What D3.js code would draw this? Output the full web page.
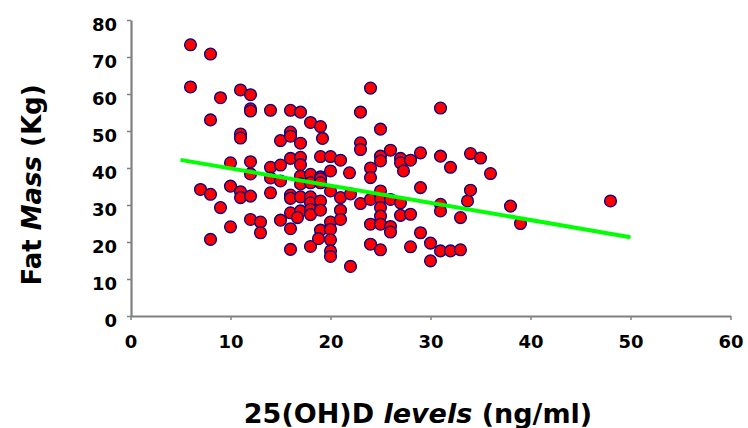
<!DOCTYPE html>
<html>
<head>
<meta charset="utf-8">
<script src="https://cdn.jsdelivr.net/npm/d3@7"></script>
<style>
  html, body { margin: 0; padding: 0; background: #ffffff; }
  svg { display: block; }
  text { font-family: "DejaVu Sans", sans-serif; font-weight: bold; fill: #000; }
</style>
</head>
<body>
<svg id="chart" width="748" height="428"></svg>
<script>
// ---- Data ----
const vitD = [
  6, 6,
  7,
  8, 8, 8, 8,
  9, 9,
  10, 10, 10,
  11, 11, 11, 11, 11,
  12, 12, 12, 12, 12, 12, 12,
  13, 13,
  14, 14, 14, 14,
  15, 15, 15, 15,
  16, 16, 16, 16, 16, 16, 16, 16, 16,
  17, 17, 17, 17, 17, 17, 17, 17, 16.7,
  18, 18, 18, 18, 18, 18, 18, 18,
  19, 19.2, 19, 19, 19, 19, 19, 19, 19, 18.8,
  20, 20, 20, 20, 20, 20, 20, 20,
  21, 21, 21, 21,
  21.9, 22, 22,
  23, 23, 23, 23,
  24, 24, 24, 24, 24, 24,
  25, 25, 25, 25, 25, 25, 25, 25, 25,
  26, 26, 26, 26,
  27, 27, 27.3, 27, 27,
  28, 28, 28,
  29, 29, 29,
  30, 30,
  31, 31, 31, 31, 31,
  32, 32,
  33, 33,
  34, 33.7, 34,
  35,
  36,
  38,
  39,
  48
];
const fatMass = [
  73.3, 61.9,
  34.2,
  70.8, 53, 32.9, 20.7,
  59, 29.3,
  41.4, 35.1, 24.1,
  61.1, 49.2, 48.1, 33.6, 32,
  59.8, 56, 55.4, 41.7, 38.4, 32.4, 26.1,
  25.4, 22.5,
  55.6, 40.2, 37.3, 33.3,
  47.4, 40.8, 36.5, 25.9,
  55.6, 49.7, 48.6, 42.6, 32.7, 31.8, 27.9, 23.6, 18,
  55.1, 46.7, 42.9, 40.9, 37.8, 35.7, 32.2, 28.4, 26.6,
  52.3, 38.3, 36, 32.2, 30.6, 28.8, 27.4, 18.8,
  51.2, 48, 43.1, 37.6, 37.1, 36, 31.1, 28.6, 23.2, 20.9,
  43.1, 39.2, 33.8, 25.4, 23.4, 20.6, 17.6, 16.1,
  42.1, 32, 28.6, 26.1,
  38.7, 33, 13.4,
  55.1, 46.8, 45, 30.4,
  61.6, 40, 37.4, 31.5, 24.8, 19.4,
  50.5, 43.2, 41.9, 33.8, 31.7, 29.3, 27, 24.8, 17.9,
  44.8, 31.5, 24.2, 22.7,
  42.6, 41.4, 39.2, 30.6, 27.2,
  42.1, 27.5, 18.7,
  44.1, 34.7, 22.5,
  19.7, 14.9,
  56.2, 43.2, 30.2, 28.4, 17.6,
  40.2, 17.6,
  26.6, 17.9,
  43.9, 31.1, 34,
  42.7,
  38.5,
  29.7,
  25,
  31.1
];
// regression (trend) line end points
const trendX = [5, 50];
const trendY = [42.2, 21.3];

const xTicks = [0, 10, 20, 30, 40, 50, 60];
const yTicks = [0, 10, 20, 30, 40, 50, 60, 70, 80];
const xTitle = "25(OH)D";
const xTitleItalic = "levels";
const xTitleTail = "(ng/ml)";
const yTitleA = "Fat ";
const yTitleB = "Mass";
const yTitleC = " (Kg)";

// ---- Drawing ----
const svg = d3.select("#chart");
const x = d3.scaleLinear().domain([0, 60]).range([130.5, 730.5]);
const y = d3.scaleLinear().domain([0, 80]).range([316, 20]);

const axisColor = "#808080";

// X axis
const gx = svg.append("g")
  .attr("transform", `translate(0,${y(0)})`)
  .call(d3.axisBottom(x).tickValues(xTicks).tickSize(4).tickSizeOuter(0).tickPadding(15).tickFormat(d3.format("d")));
gx.select(".domain").attr("stroke", axisColor).attr("stroke-width", 2.2);
gx.selectAll(".tick line").attr("stroke", axisColor).attr("stroke-width", 1.5);
gx.selectAll(".tick text")
  .attr("font-family", "DejaVu Sans, sans-serif")
  .attr("font-weight", "bold")
  .attr("font-size", 18)
  .attr("fill", "#000");

// Y axis
const gy = svg.append("g")
  .attr("transform", `translate(${x(0) + 0.5},0)`)
  .call(d3.axisLeft(y).tickValues(yTicks).tickSize(4).tickSizeOuter(0).tickPadding(10).tickFormat(d3.format("d")));
gy.select(".domain").attr("stroke", axisColor).attr("stroke-width", 2.2);
gy.selectAll(".tick line").attr("stroke", axisColor).attr("stroke-width", 1.5);
gy.selectAll(".tick text")
  .attr("font-family", "DejaVu Sans, sans-serif")
  .attr("font-weight", "bold")
  .attr("font-size", 18)
  .attr("fill", "#000")
  .attr("dy", "0.6em");

// Points
const pts = vitD.map((v, i) => ({ x: v, y: fatMass[i] }));
svg.append("g")
  .selectAll("circle")
  .data(pts)
  .join("circle")
  .attr("cx", d => x(d.x))
  .attr("cy", d => y(d.y))
  .attr("r", 5.9)
  .attr("fill", "#ff0000")
  .attr("stroke", "#000080")
  .attr("stroke-width", 1.3);

// Trend line
const line = d3.line().x(d => x(d[0])).y(d => y(d[1]));
svg.append("path")
  .datum(trendX.map((v, i) => [v, trendY[i]]))
  .attr("d", line)
  .attr("fill", "none")
  .attr("stroke", "#00ff00")
  .attr("stroke-width", 4);

// X title
const xt = svg.append("text")
  .attr("x", 418)
  .attr("y", 423)
  .attr("text-anchor", "middle")
  .attr("font-size", 27);
xt.append("tspan").text(xTitle + " ");
xt.append("tspan").attr("font-style", "italic").text(xTitleItalic);
xt.append("tspan").text(" " + xTitleTail);

// Y title
const yt = svg.append("text")
  .attr("transform", "translate(41,185) rotate(-90)")
  .attr("text-anchor", "middle")
  .attr("font-size", 26);
yt.append("tspan").text(yTitleA);
yt.append("tspan").attr("font-style", "italic").text(yTitleB);
yt.append("tspan").text(yTitleC);
</script>
</body>
</html>
